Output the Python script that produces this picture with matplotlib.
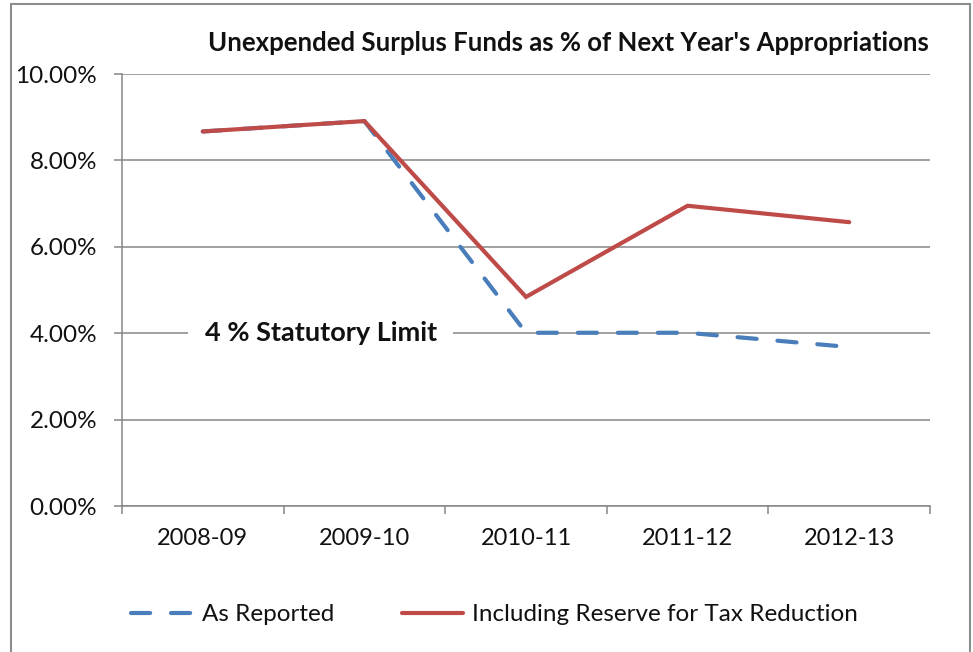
import matplotlib.pyplot as plt
from matplotlib.patches import Rectangle
from matplotlib.ticker import FuncFormatter, MultipleLocator

plt.rcParams['font.family'] = ['Lato', 'DejaVu Sans']

years = ['2008-09', '2009-10', '2010-11', '2011-12', '2012-13']
as_reported = [8.67, 8.91, 4.01, 4.01, 3.68]
incl_reserve = [8.67, 8.91, 4.84, 6.95, 6.57]
limit = 4.0

RED = '#BE4B48'
BLUE = '#4A7EBB'
GRID = '#868686'
TEXT = '#111111'


def main():
    fig = plt.figure(figsize=(9.73, 6.52), dpi=100)
    ax = fig.add_axes([0.1254, 0.2239, 0.8304, 0.6626])

    x = list(range(len(years)))
    ax.plot(x, as_reported, color=BLUE, lw=3, linestyle=(0, (4.6, 5.0)),
            dash_capstyle='round', solid_capstyle='round', zorder=3,
            label='As Reported')
    ax.plot(x, incl_reserve, color=RED, lw=3, solid_capstyle='round',
            solid_joinstyle='miter', zorder=4,
            label='Including Reserve for Tax Reduction')

    ax.set_xlim(-0.5, len(years) - 0.5)
    ax.set_ylim(0, 10)
    ax.yaxis.set_major_locator(MultipleLocator(2))
    ax.yaxis.set_major_formatter(FuncFormatter(lambda v, p: f'{v:.2f}%'))
    ax.grid(axis='y', color=GRID, lw=1.1, zorder=0.5)
    ax.set_axisbelow(True)

    ax.set_xticks(x)
    ax.set_xticklabels(years)
    ax.set_xticks([i - 0.5 for i in range(len(years) + 1)], minor=True)
    ax.tick_params(axis='x', which='major', length=0, pad=16,
                   labelsize=17, labelcolor=TEXT)
    ax.tick_params(axis='x', which='minor', length=6, width=1.1, color=GRID)
    ax.tick_params(axis='y', length=6, width=1.1, color=GRID, pad=12,
                   labelsize=17.5, labelcolor=TEXT)

    for side in ['top', 'right']:
        ax.spines[side].set_visible(False)
    for side in ['left', 'bottom']:
        ax.spines[side].set_color(GRID)
        ax.spines[side].set_linewidth(1.1)

    # statutory limit label sits on the 4% gridline with a white box
    ax.text(0.73, limit, '4 % Statutory Limit', ha='center', va='center',
            fontsize=19.5, fontweight='bold', color=TEXT, zorder=1.5,
            bbox=dict(boxstyle='square,pad=0.6', fc='white', ec='none'))

    fig.text(0.5843, 0.934, "Unexpended Surplus Funds as % of Next Year's Appropriations",
             ha='center', va='center', fontsize=18.5, fontweight='bold', color=TEXT)

    fig.legend(loc='center', bbox_to_anchor=(0.5085, 0.057), ncol=2,
               frameon=False, fontsize=17.5, handlelength=2.5,
               columnspacing=2.8, handletextpad=0.4, labelcolor=TEXT)

    # chart border
    fig.patches.append(Rectangle((11 / 973, -0.01), 959 / 973, 1 - 4 / 652 + 0.01,
                                 transform=fig.transFigure, fill=False,
                                 ec='#8c8c8c', lw=1.5))

    fig.savefig('out.png', dpi=100)


if __name__ == '__main__':
    main()
